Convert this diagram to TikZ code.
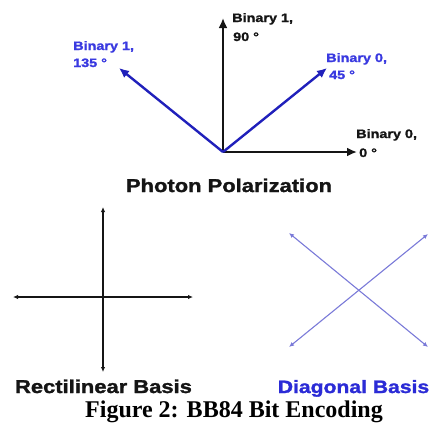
\documentclass[tikz,border=0pt]{standalone}
\usepackage{fontspec}
\setmainfont{Liberation Serif}
\newfontfamily\wsans[FakeStretch=1.18, BoldFeatures={FakeBold=1.6}]{Liberation Sans}
\usetikzlibrary{arrows.meta}
\definecolor{lblblue}{HTML}{3A3AE0}
\definecolor{arrblue}{HTML}{2020BB}
\definecolor{diagblue}{HTML}{7A7AD8}
\definecolor{basisblue}{HTML}{2B2BD6}
\definecolor{darkline}{HTML}{151515}
\tikzset{
  bigtip/.style={-{Latex[length=10pt,width=9pt]}},
  smalltip/.style={{Latex[length=5pt,width=4.5pt]}-{Latex[length=5pt,width=4.5pt]}},
  blackarrow/.style={bigtip, line width=2pt, draw=darkline},
  bluearrow/.style={bigtip, line width=2.4pt, draw=arrblue},
  lbl/.style={anchor=base west, inner sep=0pt, font=\wsans\bfseries\fontsize{12.2}{14}\selectfont},
  lblk/.style={lbl, text=darkline},
  lblb/.style={lbl, text=lblblue},
  title/.style={anchor=base, inner sep=0pt, font=\wsans\bfseries\fontsize{18.6}{20}\selectfont, text=darkline},
  recline/.style={smalltip, line width=1.1pt, draw=darkline},
  diagline/.style={smalltip, line width=1.1pt, draw=diagblue},
  caption/.style={anchor=base, inner sep=0pt, font=\bfseries\fontsize{24}{26}\selectfont}
}
\begin{document}
\begin{tikzpicture}[x=1pt,y=-1pt]
\useasboundingbox (0,0) rectangle (433,426);
% Photon polarization
\coordinate (O) at (223,152);
\coordinate (T90) at (223,18);
\coordinate (T0) at (357,152);
\coordinate (T45) at (327,68);
\coordinate (T135) at (119,68);
\draw[blackarrow] (O) -- (T90);
\draw[blackarrow] (O) -- (T0);
\draw[bluearrow] (O) -- (T45);
\draw[bluearrow] (O) -- (T135);
\node[lblk] (l90a) at (232,22) {Binary 1,};
\node[lblk] (l90b) at (233,41) {90 °};
\node[lblb] (l135a) at (73,50) {Binary 1,};
\node[lblb] (l135b) at (73,67) {135 °};
\node[lblb] (l45a) at (326,62) {Binary 0,};
\node[lblb] (l45b) at (329,79) {45 °};
\node[lblk] (l0a) at (356,138) {Binary 0,};
\node[lblk] (l0b) at (359,157) {0 °};
\node[title] (pp) at (229,192) {Photon Polarization};
% Rectilinear basis
\coordinate (RU) at (103,207);
\coordinate (RD) at (103,372);
\coordinate (RL) at (13,297);
\coordinate (RR) at (193,297);
\draw[recline] (RU) -- (RD);
\draw[recline] (RL) -- (RR);
% Diagonal basis
\coordinate (DUL) at (289,233);
\coordinate (DLR) at (428,347);
\coordinate (DLL) at (289,347);
\coordinate (DUR) at (428,234);
\draw[diagline] (DUL) -- (DLR);
\draw[diagline] (DLL) -- (DUR);
\node[title] (rb) at (103.5,393) {Rectilinear Basis};
\node[title, text=basisblue, font=\wsans\bfseries\fontsize{17.9}{20}\selectfont] (db) at (353.5,393) {Diagonal Basis};
\node[caption] (cap) at (234,417) {Figure 2: BB84 Bit Encoding};
\end{tikzpicture}
\end{document}
